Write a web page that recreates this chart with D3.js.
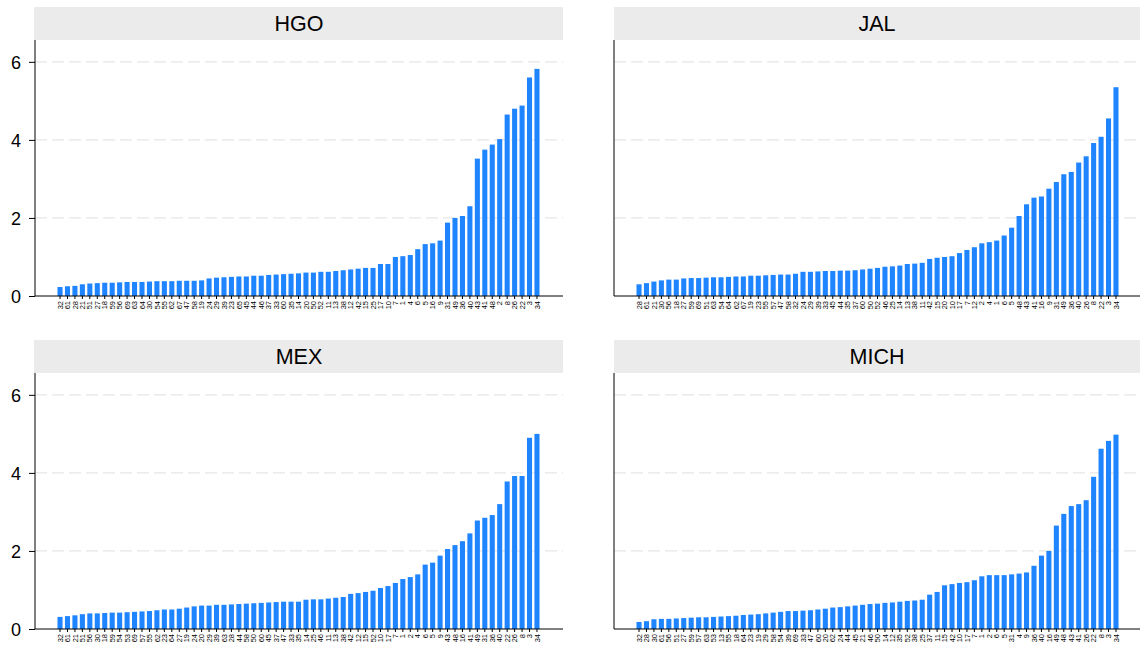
<!DOCTYPE html>
<html><head><meta charset="utf-8">
<script src="https://cdn.jsdelivr.net/npm/d3@7"></script>
<style>body{margin:0;background:#fff}svg{display:block;font-family:"Liberation Sans",Arial,sans-serif}</style>
</head><body><svg id="c" width="1140" height="652"></svg>
<script>
const panels = ["HGO", "JAL", "MEX", "MICH"];
const yTicks = [0, 2, 4, 6];

const hgoLabels = [32,61,28,21,51,27,18,59,56,69,63,64,30,54,55,62,67,47,58,19,24,29,39,23,65,45,44,46,37,33,60,35,14,20,50,52,11,13,38,12,42,15,25,17,10,7,1,4,6,5,16,9,31,49,36,40,43,41,48,2,8,26,22,3,34];
const hgoValues = [0.23,0.25,0.26,0.3,0.32,0.33,0.34,0.34,0.35,0.36,0.36,0.36,0.37,0.38,0.38,0.38,0.39,0.39,0.39,0.4,0.45,0.47,0.48,0.49,0.5,0.5,0.52,0.52,0.54,0.55,0.56,0.57,0.58,0.6,0.6,0.62,0.62,0.64,0.66,0.68,0.7,0.72,0.72,0.82,0.82,1.0,1.02,1.05,1.2,1.33,1.35,1.42,1.88,2.0,2.05,2.3,3.52,3.75,3.88,4.02,4.65,4.8,4.88,5.6,5.82];

const jalLabels = [28,61,21,30,56,18,27,59,69,51,63,54,64,62,67,19,23,55,57,47,58,32,24,29,39,33,45,44,35,37,60,50,52,46,25,14,13,38,11,42,15,20,10,17,7,12,2,4,1,6,5,48,43,41,16,9,31,49,36,40,26,8,22,3,34];
const jalValues = [0.3,0.33,0.37,0.4,0.42,0.42,0.45,0.46,0.46,0.47,0.48,0.48,0.49,0.5,0.5,0.52,0.52,0.53,0.54,0.55,0.55,0.57,0.62,0.62,0.63,0.64,0.64,0.65,0.65,0.66,0.68,0.7,0.72,0.75,0.76,0.78,0.82,0.83,0.85,0.95,0.98,1.0,1.02,1.1,1.18,1.25,1.35,1.38,1.42,1.55,1.75,2.05,2.35,2.52,2.55,2.75,2.92,3.12,3.18,3.42,3.58,3.92,4.08,4.55,5.35];

const mexLabels = [32,61,21,51,56,30,18,59,54,53,69,57,55,62,23,64,27,19,24,20,29,39,63,28,44,58,50,60,45,37,47,33,35,14,25,46,11,13,38,42,12,15,52,10,17,7,1,2,4,6,5,9,43,48,16,41,49,31,36,40,22,26,8,3,34];
const mexValues = [0.31,0.33,0.35,0.38,0.4,0.4,0.41,0.42,0.42,0.43,0.44,0.45,0.46,0.48,0.5,0.5,0.52,0.55,0.58,0.6,0.6,0.62,0.62,0.63,0.64,0.65,0.66,0.67,0.68,0.69,0.7,0.7,0.7,0.75,0.76,0.76,0.78,0.8,0.82,0.9,0.92,0.95,0.98,1.05,1.1,1.18,1.28,1.33,1.4,1.65,1.7,1.88,2.05,2.15,2.25,2.45,2.78,2.85,2.92,3.2,3.78,3.92,3.92,4.9,5.0];

const michLabels = [32,28,30,61,56,51,27,59,57,63,53,13,55,18,64,23,19,29,58,54,39,69,33,47,60,20,62,24,44,45,21,46,50,14,12,35,52,38,25,37,11,15,42,10,17,7,1,2,6,5,31,4,9,36,40,16,49,48,43,41,26,22,8,3,34];
const michValues = [0.18,0.2,0.25,0.26,0.26,0.27,0.28,0.29,0.3,0.3,0.31,0.32,0.33,0.34,0.36,0.37,0.38,0.4,0.42,0.44,0.46,0.46,0.47,0.48,0.5,0.52,0.55,0.56,0.58,0.6,0.62,0.64,0.65,0.67,0.68,0.7,0.72,0.73,0.75,0.88,0.95,1.12,1.15,1.18,1.2,1.25,1.35,1.38,1.38,1.38,1.4,1.42,1.45,1.62,1.88,2.0,2.65,2.95,3.15,3.2,3.3,3.9,4.62,4.82,4.98];

const series = [
  {name: panels[0], labels: hgoLabels, values: hgoValues},
  {name: panels[1], labels: jalLabels, values: jalValues},
  {name: panels[2], labels: mexLabels, values: mexValues},
  {name: panels[3], labels: michLabels, values: michValues}
];

const svg = d3.select("#c");
const layout = [
  {x0: 35, x1: 563, top: 40, base: 296, stripTop: 7, showY: true},
  {x0: 614, x1: 1140, top: 40, base: 296, stripTop: 7, showY: false},
  {x0: 35, x1: 563, top: 373, base: 629, stripTop: 340, showY: true},
  {x0: 614, x1: 1140, top: 373, base: 629, stripTop: 340, showY: false}
];

series.forEach((s, i) => {
  const L = layout[i];
  const g = svg.append("g");
  const data = s.labels.map((l, j) => ({label: String(l), value: s.values[j]}));
  const x = d3.scaleBand().domain(data.map(d => d.label))
    .range([L.x0 + 21.3, L.x0 + 505.7]).paddingInner(0.32).paddingOuter(0.16);
  const y = d3.scaleLinear().domain([0, 6.56]).range([L.base, L.top]);

  // strip
  g.append("rect").attr("x", L.x0 - (i % 2 === 0 ? 1 : 0)).attr("y", L.stripTop)
    .attr("width", L.x1 - L.x0 + (i % 2 === 0 ? 1 : 0)).attr("height", L.top - L.stripTop)
    .attr("fill", "#ebebeb");
  g.append("text").attr("x", (L.x0 + L.x1) / 2).attr("y", (L.stripTop + L.top) / 2 + 7.5)
    .attr("text-anchor", "middle").attr("font-size", 21.5).attr("fill", "#000").text(s.name);

  // grid
  g.selectAll(".grid").data(yTicks.filter(t => t > 0)).join("line")
    .attr("x1", L.x0).attr("x2", L.x1).attr("y1", d => y(d)).attr("y2", d => y(d))
    .attr("stroke", "#e6e6e6").attr("stroke-width", 1.2).attr("stroke-dasharray", "12,5");

  // bars
  g.selectAll(".bar").data(data).join("rect")
    .attr("x", d => x(d.label)).attr("width", x.bandwidth())
    .attr("y", d => y(d.value)).attr("height", d => y(0) - y(d.value))
    .attr("fill", "#1f84ff");

  // y axis
  const ya = g.append("g").attr("transform", `translate(${L.x0},0)`)
    .call(d3.axisLeft(y).tickValues(yTicks).tickSize(L.showY ? 6 : 0).tickFormat(L.showY ? d3.format("d") : () => ""));
  ya.select(".domain").attr("d", `M0,${L.top}V${L.base}`).attr("stroke", "#000");
  ya.selectAll("text").attr("font-size", 18).attr("fill", "#000").attr("dx", -5).attr("dy", "0.35em");
  ya.selectAll("line").attr("stroke", "#000");

  // x axis
  const xa = g.append("g").attr("transform", `translate(0,${L.base})`)
    .call(d3.axisBottom(x).tickSize(3));
  xa.select(".domain").attr("d", `M${L.x0},0H${L.x1}`).attr("stroke", "#000");
  xa.selectAll("line").attr("stroke", "#000");
  xa.selectAll("text").attr("font-size", 7.5).attr("fill", "#000")
    .attr("transform", "rotate(-90)").attr("text-anchor", "end")
    .attr("x", -5).attr("y", 0).attr("dy", "0.35em");
});
</script></body></html>
